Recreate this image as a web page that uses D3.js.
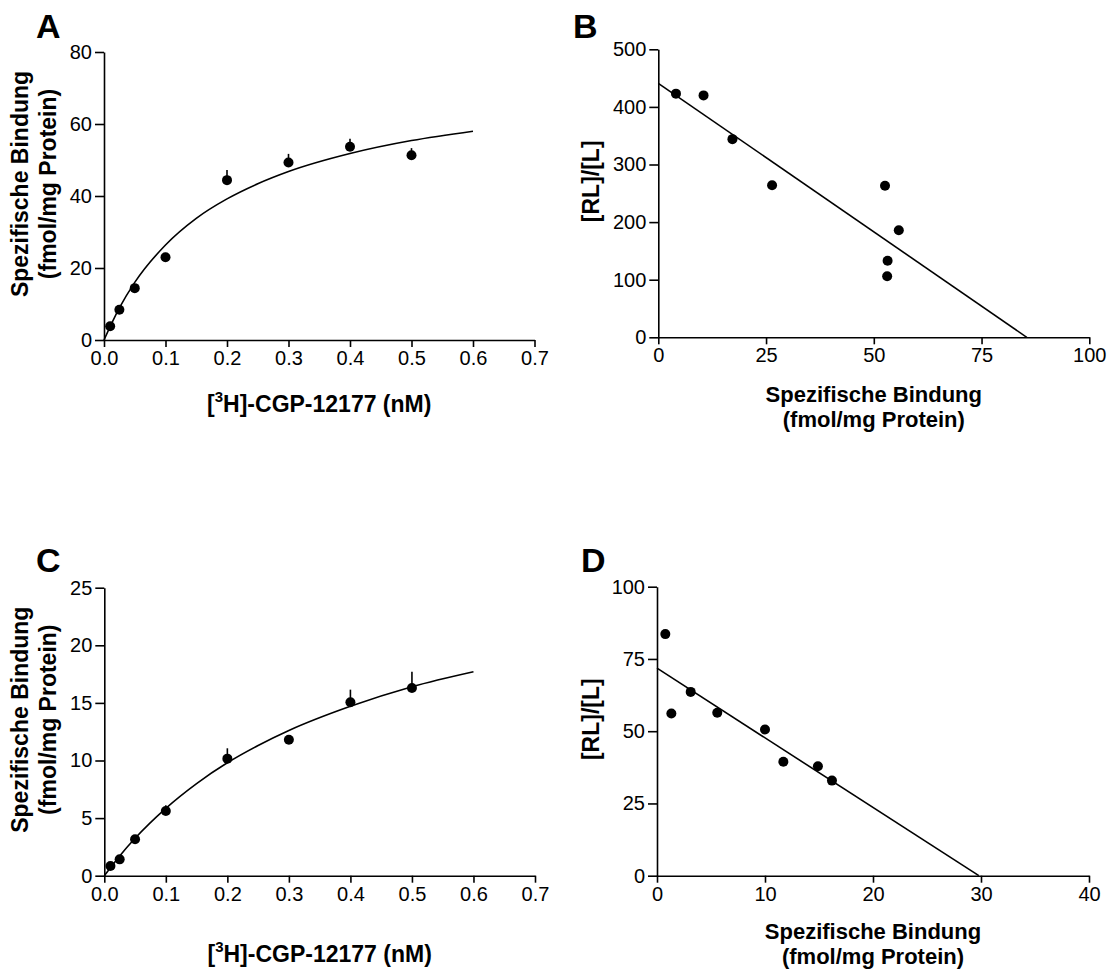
<!DOCTYPE html>
<html>
<head>
<meta charset="utf-8">
<script src="https://cdn.jsdelivr.net/npm/d3@7"></script>
<style>
  body { margin: 0; background: #fff; }
  svg text { font-family: Arial, 'Liberation Sans', Helvetica, sans-serif; fill: #000; }
</style>
</head>
<body>
<script>
/* global d3 */
(function () {
  'use strict'

  // Panel A: saturation binding, [3H]-CGP-12177 (nM) vs specific binding
  var concA = [0.01, 0.025, 0.05, 0.1, 0.2, 0.3, 0.4, 0.5]
  var bindA = [3.8, 8.4, 14.4, 23.0, 44.4, 49.3, 53.7, 51.3]
  var errA = [0.6, 0.8, 1.0, 1.2, 2.8, 2.4, 2.2, 2.0]
  // fitted curve
  var fitXA = [0, 0.025, 0.05, 0.1, 0.15, 0.2, 0.25, 0.3, 0.4, 0.5, 0.6]
  var fitYA = [0, 8.9, 16.0, 26.4, 33.8, 39.2, 43.4, 46.8, 51.8, 55.4, 58.0]

  // Panel B: Scatchard plot
  var boundB = [4.1, 10.5, 17.2, 26.4, 52.6, 55.8, 53.2, 53.1]
  var ratioB = [423, 420, 344, 264, 263, 186, 133, 106]
  var lineXB = [0, 85.5]
  var lineYB = [441, 0]

  // Panel C: saturation binding
  var concC = [0.01, 0.025, 0.05, 0.1, 0.2, 0.3, 0.4, 0.5]
  var bindC = [0.84, 1.42, 3.16, 5.62, 10.16, 11.8, 15.05, 16.3]
  var errC = [0.2, 0.2, 0.3, 0.5, 0.9, 0.3, 1.1, 1.4]
  var fitXC = [0, 0.025, 0.05, 0.1, 0.15, 0.2, 0.25, 0.3, 0.4, 0.5, 0.6]
  var fitYC = [0, 1.72, 3.25, 5.85, 8.0, 9.8, 11.3, 12.6, 14.7, 16.4, 17.7]

  // Panel D: Scatchard plot
  var boundD = [0.77, 1.33, 3.12, 5.58, 10.0, 11.7, 14.9, 16.2]
  var ratioD = [83.6, 56.1, 63.6, 56.4, 50.6, 39.4, 37.9, 32.9]
  var lineXD = [0, 29.8]
  var lineYD = [71.8, 0]

  // tick labels
  var ticksConc = [0, 0.1, 0.2, 0.3, 0.4, 0.5, 0.6, 0.7]
  var ticksYA = [0, 20, 40, 60, 80]
  var ticksXB = [0, 25, 50, 75, 100]
  var ticksYB = [0, 100, 200, 300, 400, 500]
  var ticksYC = [0, 5, 10, 15, 20, 25]
  var ticksXD = [0, 10, 20, 30, 40]
  var ticksYD = [0, 25, 50, 75, 100]

  var svg = d3.select('body').append('svg')
    .attr('width', 1110)
    .attr('height', 973)

  function zip (a, b, c) {
    return a.map(function (v, i) { return { x: v, y: b[i], e: c ? c[i] : 0 } })
  }

  function panel (o) {
    var x = d3.scaleLinear().domain(o.xDomain).range([o.left, o.right])
    var y = d3.scaleLinear().domain(o.yDomain).range([o.bottom, o.top])

    var ax = svg.append('g')
      .attr('transform', 'translate(0,' + o.bottom + ')')
      .call(d3.axisBottom(x).tickValues(o.xTicks).tickFormat(o.xFmt)
        .tickSize(7).tickSizeOuter(0).tickPadding(4))
    var ay = svg.append('g')
      .attr('transform', 'translate(' + o.left + ',0)')
      .call(d3.axisLeft(y).tickValues(o.yTicks).tickFormat(d3.format('d'))
        .tickSize(9).tickSizeOuter(0).tickPadding(3))
    ;[ax, ay].forEach(function (g) {
      g.selectAll('path, line').attr('stroke', '#000').attr('stroke-width', 1.6)
      g.selectAll('text').attr('font-size', 20).attr('fill', '#000')
    })

    // fit line / curve
    var line = d3.line()
      .x(function (d) { return x(d.x) })
      .y(function (d) { return y(d.y) })
      .curve(o.curved ? d3.curveMonotoneX : d3.curveLinear)
    svg.append('path')
      .datum(zip(o.fitX, o.fitY))
      .attr('d', line)
      .attr('fill', 'none')
      .attr('stroke', '#000')
      .attr('stroke-width', 1.6)

    var pts = zip(o.px, o.py, o.pe)
    if (o.pe) {
      svg.append('g').selectAll('line')
        .data(pts)
        .enter().append('line')
          .attr('x1', function (d) { return x(d.x) })
          .attr('x2', function (d) { return x(d.x) })
          .attr('y1', function (d) { return y(d.y) })
          .attr('y2', function (d) { return y(d.y + d.e) })
          .attr('stroke', '#000')
          .attr('stroke-width', 1.6)
    }
    svg.append('g').selectAll('circle')
      .data(pts)
      .enter().append('circle')
        .attr('cx', function (d) { return x(d.x) })
        .attr('cy', function (d) { return y(d.y) })
        .attr('r', 5)
        .attr('fill', '#000')

    // panel letter
    svg.append('text')
      .attr('x', o.letterX)
      .attr('y', o.letterY)
      .attr('font-size', 34)
      .attr('font-weight', 'bold')
      .text(o.letter)

    // y title
    var yc = (o.top + o.bottom) / 2 - 12
    o.yTitle.forEach(function (t, i) {
      svg.append('text')
        .attr('transform', 'translate(' + (o.yTitleX + i * 28) + ',' + yc + ') rotate(-90)')
        .attr('text-anchor', 'middle')
        .attr('font-size', 23)
        .attr('font-weight', 'bold')
        .text(t)
    })

    // x title
    var xc = (o.left + o.right) / 2
    if (o.superTitle) {
      var t = svg.append('text')
        .attr('x', xc)
        .attr('y', o.xTitleY)
        .attr('text-anchor', 'middle')
        .attr('font-size', 23)
        .attr('font-weight', 'bold')
      t.append('tspan').text('[')
      t.append('tspan').attr('dy', -10).attr('font-size', 15).text('3')
      t.append('tspan').attr('dy', 10).text('H]-CGP-12177 (nM)')
    } else {
      o.xTitle.forEach(function (s, i) {
        svg.append('text')
          .attr('x', xc)
          .attr('y', o.xTitleY + i * 25)
          .attr('text-anchor', 'middle')
          .attr('font-size', 22)
          .attr('font-weight', 'bold')
          .text(s)
      })
    }
  }

  var bindTitle = ['Spezifische Bindung', '(fmol/mg Protein)']
  var ratioTitle = ['[RL]/[L]']

  panel({
    letter: 'A', letterX: 36, letterY: 38,
    left: 104, right: 534.5, top: 52, bottom: 340,
    xDomain: [0, 0.7], yDomain: [0, 80],
    xTicks: ticksConc, yTicks: ticksYA, xFmt: d3.format('.1f'),
    px: concA, py: bindA, pe: errA,
    fitX: fitXA, fitY: fitYA, curved: true,
    yTitle: bindTitle, yTitleX: 28, superTitle: true, xTitleY: 412
  })

  panel({
    letter: 'B', letterX: 573, letterY: 38,
    left: 658.3, right: 1089.3, top: 49.3, bottom: 337.3,
    xDomain: [0, 100], yDomain: [0, 500],
    xTicks: ticksXB, yTicks: ticksYB, xFmt: d3.format('d'),
    px: boundB, py: ratioB, pe: null,
    fitX: lineXB, fitY: lineYB, curved: false,
    yTitle: ratioTitle, yTitleX: 599, xTitle: bindTitle, xTitleY: 402
  })

  panel({
    letter: 'C', letterX: 36, letterY: 572,
    left: 104.3, right: 535, top: 587.7, bottom: 875.7,
    xDomain: [0, 0.7], yDomain: [0, 25],
    xTicks: ticksConc, yTicks: ticksYC, xFmt: d3.format('.1f'),
    px: concC, py: bindC, pe: errC,
    fitX: fitXC, fitY: fitYC, curved: true,
    yTitle: bindTitle, yTitleX: 28, superTitle: true, xTitleY: 962
  })

  panel({
    letter: 'D', letterX: 581, letterY: 572,
    left: 657, right: 1089, top: 586.7, bottom: 875.7,
    xDomain: [0, 40], yDomain: [0, 100],
    xTicks: ticksXD, yTicks: ticksYD, xFmt: d3.format('d'),
    px: boundD, py: ratioD, pe: null,
    fitX: lineXD, fitY: lineYD, curved: false,
    yTitle: ratioTitle, yTitleX: 599, xTitle: bindTitle, xTitleY: 939
  })
}())
</script>
</body>
</html>
